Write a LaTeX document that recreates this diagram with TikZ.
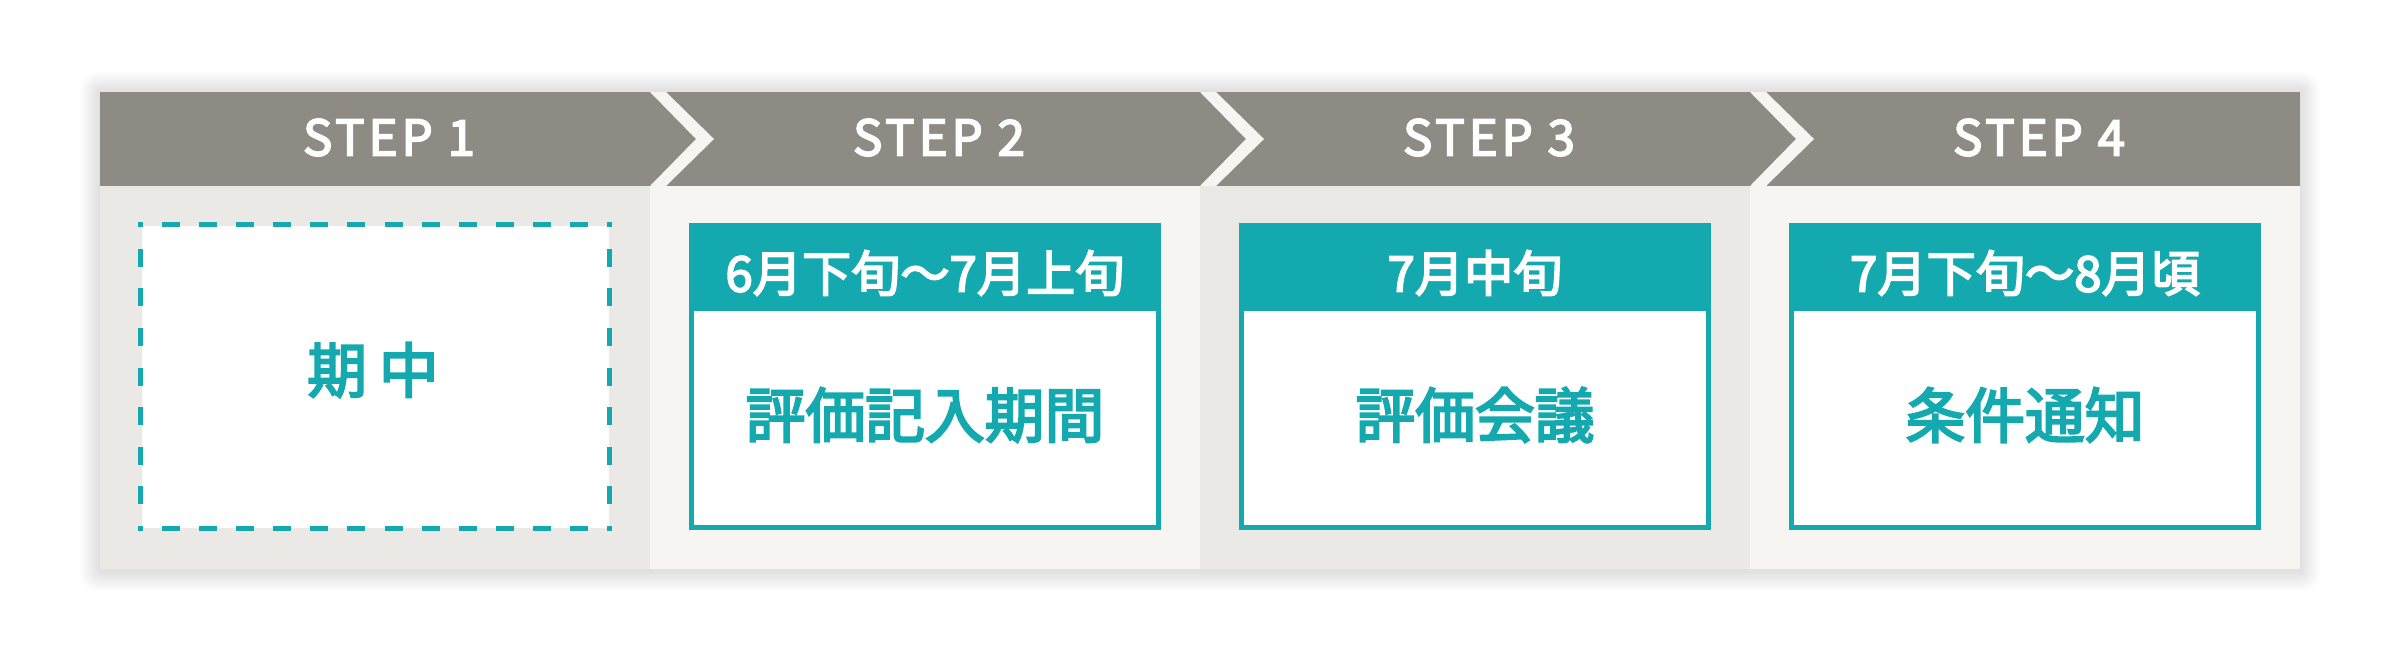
\documentclass[tikz,border=0pt]{standalone}
\usepackage{fontspec}
\setmainfont{Noto Sans CJK JP}[BoldFont=Noto Sans CJK JP,BoldFeatures={FakeBold=3.5}]
\usetikzlibrary{positioning,decorations}

\definecolor{hdrgray}{HTML}{8E8A84}
\definecolor{coldark}{HTML}{EBE9E5}
\definecolor{collight}{HTML}{F6F5F2}
\definecolor{accent}{HTML}{13A9AE}

\newcommand*{\pxmin}{1}
\newcommand*{\pxmax}{23}
\newcommand*{\pymin}{0.91}
\newcommand*{\pymax}{5.68}
\newcommand*{\hdrbot}{4.74}

\begin{document}
\begin{tikzpicture}
[
	steplabel/.style={text=white,font=\bfseries\fontsize{14}{16}\selectfont\addfontfeatures{LetterSpace=8}},
	taskbox/.style={draw=accent,line width=0.05cm,fill=white,inner sep=0pt,minimum width=4.67cm,minimum height=3.02cm},
	openbox/.style={fill=white,inner sep=0pt,minimum width=4.67cm,minimum height=3.02cm},
	dashedge/.style={draw=accent,line width=0.05cm,dash pattern=on 0.13cm off 0.23cm,dash expand off,line cap=rect},
	dateband/.style={fill=accent,draw=accent,line width=0.05cm,inner sep=0pt,minimum width=4.67cm,minimum height=0.83cm},
	datetext/.style={text=white,font=\bfseries\fontsize{14}{16}\selectfont},
	tasktext/.style={text=accent,font=\bfseries\fontsize{17}{20}\selectfont}
]
	\useasboundingbox (0,0) rectangle (24,6.6);

	% soft shadow
	\foreach \i [evaluate=\i as \r using 0.02*\i] in {1,...,10}
		\fill[black,opacity=0.012,rounded corners=\r cm]
			({\pxmin-\r},{\pymin-0.02-\r}) rectangle ({\pxmax+\r},{\pymax+\r});

	% columns
	\fill[coldark] (\pxmin,\pymin) rectangle (6.5,\hdrbot);
	\fill[collight] (6.5,\pymin) rectangle (12,\hdrbot);
	\fill[coldark] (12,\pymin) rectangle (17.5,\hdrbot);
	\fill[collight] (17.5,\pymin) rectangle (\pxmax,\hdrbot);

	% header with chevrons
	\fill[hdrgray] (\pxmin,\hdrbot) rectangle (\pxmax,\pymax);
	\foreach \c in {6.5,12,17.5}
		\fill[collight] (\c,\pymax) -- ++(0.16,0) -- ({\c+0.64},5.21) -- ({\c+0.16},\hdrbot)
			-- (\c,\hdrbot) -- ({\c+0.46},5.21) -- cycle;

	\node[steplabel] (step1) at (3.89,5.225) {STEP 1};
	\node[steplabel] (step2) at (9.39,5.225) {STEP 2};
	\node[steplabel] (step3) at (14.89,5.225) {STEP 3};
	\node[steplabel] (step4) at (20.39,5.225) {STEP 4};

	% step 1
	\node[openbox] (box1) at (3.75,2.835) {};
	\draw[dashedge] (box1.north west) -- (box1.north east);
	\draw[dashedge] (box1.north east) -- (box1.south east);
	\draw[dashedge] (box1.south east) -- (box1.south west);
	\draw[dashedge] (box1.south west) -- (box1.north west);
	\node[tasktext] (task1) at (3.73,2.90) {期\hspace{0.12cm}中};

	% step 2
	\node[taskbox] (box2) at (9.25,2.835) {};
	\node[dateband,anchor=north] (band2) at (box2.north) {};
	\node[datetext] (date2) at ([yshift=-0.06cm]band2.center) {6月下旬〜7月上旬};
	\node[tasktext] (task2) at (9.25,2.45) {評価記入期間};

	% step 3
	\node[taskbox] (box3) at (14.75,2.835) {};
	\node[dateband,anchor=north] (band3) at (box3.north) {};
	\node[datetext] (date3) at ([yshift=-0.06cm]band3.center) {7月中旬};
	\node[tasktext] (task3) at (14.75,2.45) {評価会議};

	% step 4
	\node[taskbox] (box4) at (20.25,2.835) {};
	\node[dateband,anchor=north] (band4) at (box4.north) {};
	\node[datetext] (date4) at ([yshift=-0.06cm]band4.center) {7月下旬〜8月頃};
	\node[tasktext] (task4) at (20.25,2.45) {条件通知};

\end{tikzpicture}
\end{document}
